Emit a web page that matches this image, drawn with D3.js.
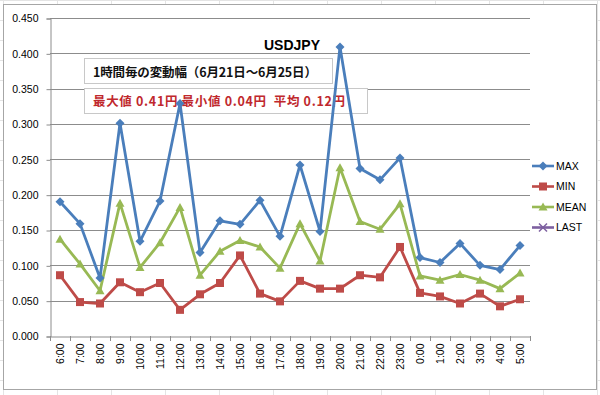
<!DOCTYPE html>
<html>
<head>
<meta charset="utf-8">
<script src="https://cdn.jsdelivr.net/npm/d3@7"></script>
<style>
  body { margin: 0; background: #fff; }
  svg { display: block; font-family: "Liberation Sans", Arial, sans-serif; }
</style>
</head>
<body>
<svg id="chart" width="600" height="395"></svg>
<script>
const hours = ["6:00","7:00","8:00","9:00","10:00","11:00","12:00","13:00","14:00","15:00","16:00","17:00",
  "18:00","19:00","20:00","21:00","22:00","23:00","0:00","1:00","2:00","3:00","4:00","5:00"];
const maxVals = [0.190,0.159,0.082,0.301,0.134,0.191,0.329,0.118,0.163,0.158,0.192,0.141,
  0.242,0.148,0.409,0.237,0.221,0.252,0.111,0.104,0.131,0.100,0.094,0.128];
const minVals = [0.086,0.048,0.046,0.076,0.062,0.075,0.037,0.059,0.075,0.114,0.060,0.049,
  0.078,0.067,0.067,0.086,0.083,0.126,0.061,0.056,0.046,0.060,0.042,0.052];
const meanVals = [0.137,0.102,0.064,0.188,0.097,0.132,0.182,0.086,0.120,0.135,0.126,0.096,
  0.159,0.106,0.238,0.162,0.151,0.187,0.085,0.079,0.087,0.079,0.067,0.089];
const lastVals = [];
const yTicks = [0,0.05,0.1,0.15,0.2,0.25,0.3,0.35,0.4,0.45];
const seriesNames = ["MAX","MIN","MEAN","LAST"];
const colors = {MAX: "#4a7ebb", MIN: "#be4b48", MEAN: "#98b954", LAST: "#7d60a0"};
const title = "USDJPY";
const subTitle = "1時間毎の変動幅（6月21日～6月25日）";
const statText = "最大値 0.41円 最小値 0.04円  平均 0.12円";

const svg = d3.select("#chart");

// spreadsheet cell lines behind the chart
const bg = svg.append("g").attr("stroke", "#e4e4e4").attr("stroke-width", 1);
d3.range(0, 600, 54).forEach(x => bg.append("line").attr("x1", x + 3.5).attr("x2", x + 3.5).attr("y1", 0).attr("y2", 395));
d3.range(0, 395, 20).forEach(y => bg.append("line").attr("x1", 0).attr("x2", 600).attr("y1", y + 0.5).attr("y2", y + 0.5));

// chart area
svg.append("rect").attr("x", 3.5).attr("y", 4.5).attr("width", 593).attr("height", 385)
  .attr("fill", "#fff").attr("stroke", "#a6a6a6");

const plotL = 50, plotR = 530, plotT = 18, plotB = 336;
const x = d3.scaleBand().domain(hours).range([plotL, plotR]);
const y = d3.scaleLinear().domain([0, 0.45]).range([plotB, plotT]);

// gridlines
svg.append("g").selectAll("line").data(yTicks.slice(1)).join("line")
  .attr("x1", plotL).attr("x2", plotR)
  .attr("y1", d => Math.round(y(d)) + 0.5).attr("y2", d => Math.round(y(d)) + 0.5)
  .attr("stroke", "#8c8c8c").attr("stroke-width", 1);

// y axis
const yAxis = svg.append("g").attr("transform", `translate(${plotL + 0.5},0.5)`)
  .call(d3.axisLeft(y).tickValues(yTicks).tickFormat(d3.format(".3f")).tickSizeOuter(0).tickSize(4).tickPadding(8));
yAxis.select(".domain").attr("stroke", "#8c8c8c");
yAxis.selectAll(".tick line").attr("stroke", "#8c8c8c");
yAxis.selectAll("text").attr("font-size", 10.5).attr("fill", "#000")
  .attr("font-family", "'Liberation Sans', Arial, sans-serif");

// x axis
const xAxis = svg.append("g").attr("transform", `translate(0,${plotB + 0.5})`)
  .call(d3.axisBottom(x).tickSize(0).tickSizeOuter(0));
xAxis.select(".domain").attr("stroke", "#8c8c8c");
xAxis.selectAll(".tick text")
  .attr("font-size", 10.5).attr("fill", "#000")
  .attr("font-family", "'Liberation Sans', Arial, sans-serif")
  .attr("transform", "rotate(-90)")
  .attr("text-anchor", "end")
  .attr("x", -7).attr("y", 0).attr("dy", "0.35em");
// category separators
svg.append("g").selectAll("line").data(hours.concat(["end"])).join("line")
  .attr("x1", (d, i) => Math.round(plotL + i * x.bandwidth()) + 0.5)
  .attr("x2", (d, i) => Math.round(plotL + i * x.bandwidth()) + 0.5)
  .attr("y1", plotB).attr("y2", plotB + 5)
  .attr("stroke", "#8c8c8c");

// title
svg.append("text").attr("x", 292).attr("y", 50).attr("text-anchor", "middle")
  .attr("font-size", 14).attr("font-weight", "bold").attr("fill", "#000")
  .attr("font-family", "'Liberation Sans', Arial, sans-serif").text(title);

// annotation boxes (series lines are drawn over them)
svg.append("rect").attr("x", 84.5).attr("y", 58.5).attr("width", 248).attr("height", 25)
  .attr("fill", "#fff").attr("stroke", "#c8c8c8");
svg.append("text").attr("x", 93).attr("y", 77).attr("font-size", 12.5).attr("font-weight", "bold")
  .attr("font-family", "'Noto Sans CJK JP', sans-serif").attr("fill", "#111")
  .attr("textLength", 224).attr("lengthAdjust", "spacing").text(subTitle);
svg.append("rect").attr("x", 84.5).attr("y", 88.5).attr("width", 283).attr("height", 25)
  .attr("fill", "#fff").attr("stroke", "#c8c8c8");
svg.append("text").attr("x", 93).attr("y", 106).attr("font-size", 12.5).attr("font-weight", "bold")
  .attr("font-family", "'Noto Sans CJK JP', sans-serif").attr("fill", "#c0282d")
  .attr("xml:space", "preserve")
  .attr("textLength", 252).attr("lengthAdjust", "spacing").text(statText);

const cx = d => x(d) + x.bandwidth() / 2;
const seriesData = {MAX: maxVals, MIN: minVals, MEAN: meanVals, LAST: lastVals};
const line = d3.line().x(d => cx(d.h)).y(d => y(d.v));

function marker(g, name, px, py) {
  const c = colors[name];
  if (name === "MAX") {
    g.append("path").attr("d", `M${px},${py - 4.5}L${px + 4.5},${py}L${px},${py + 4.5}L${px - 4.5},${py}Z`).attr("fill", c);
  } else if (name === "MIN") {
    g.append("rect").attr("x", px - 4).attr("y", py - 4).attr("width", 8).attr("height", 8).attr("fill", c);
  } else if (name === "MEAN") {
    g.append("path").attr("d", `M${px},${py - 4.5}L${px + 4.5},${py + 3.5}L${px - 4.5},${py + 3.5}Z`).attr("fill", c);
  } else {
    g.append("path").attr("d", `M${px - 4},${py - 4}L${px + 4},${py + 4}M${px - 4},${py + 4}L${px + 4},${py - 4}`)
      .attr("stroke", c).attr("stroke-width", 1.5);
  }
}

["LAST", "MEAN", "MIN", "MAX"].forEach(name => {
  const pts = seriesData[name].map((v, i) => ({h: hours[i], v: v}));
  if (!pts.length) return;
  const g = svg.append("g");
  g.append("path").attr("d", line(pts)).attr("fill", "none")
    .attr("stroke", colors[name]).attr("stroke-width", 2.8).attr("stroke-linejoin", "round");
  pts.forEach(p => marker(g, name, cx(p.h), y(p.v)));
});

// legend
const lg = svg.append("g");
seriesNames.forEach((name, i) => {
  const ly = 166 + i * 20.5;
  lg.append("line").attr("x1", 532).attr("x2", 554).attr("y1", ly).attr("y2", ly)
    .attr("stroke", colors[name]).attr("stroke-width", 2.6);
  marker(lg, name, 543, ly);
  lg.append("text").attr("x", 556).attr("y", ly).attr("dy", "0.36em")
    .attr("font-size", 10.5).attr("fill", "#000").text(name);
});
</script>
</body>
</html>
